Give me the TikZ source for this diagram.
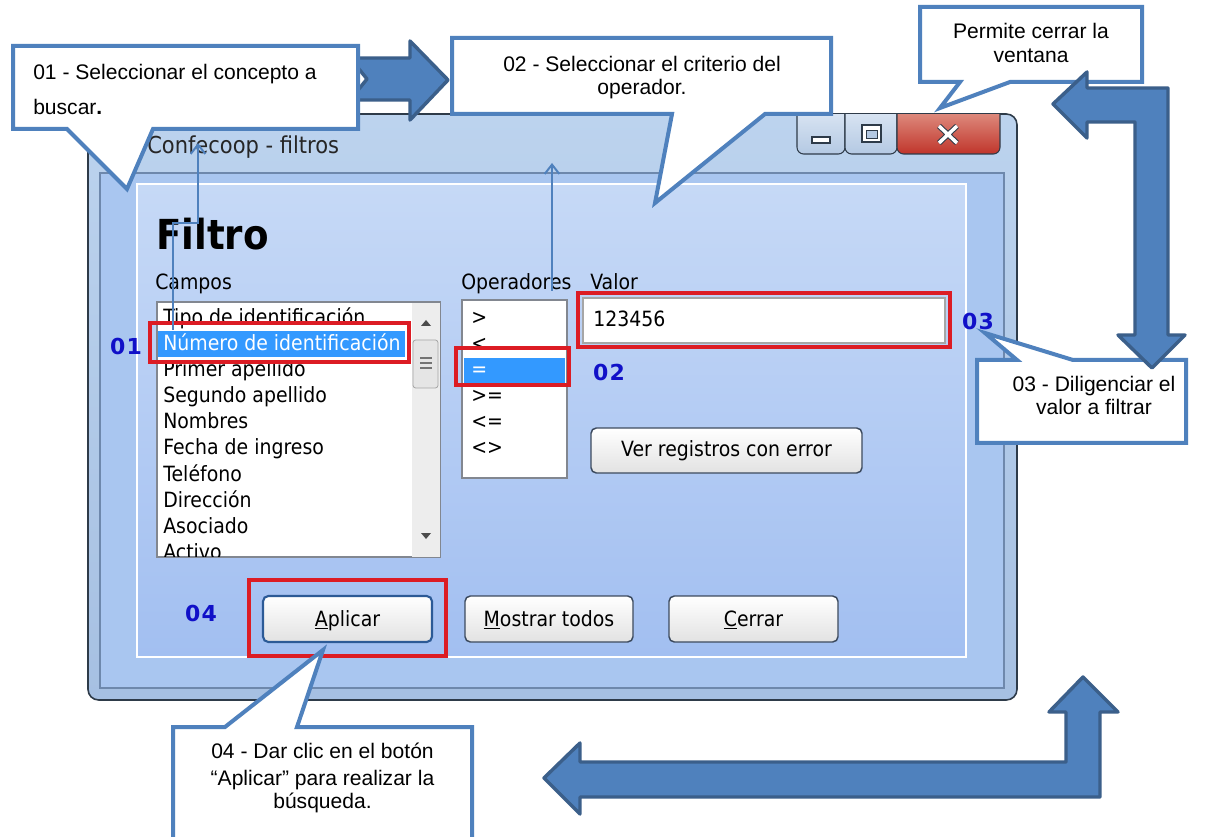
\documentclass[tikz,border=0pt]{standalone}
\usepackage{fontspec}
\setmainfont{Liberation Sans}
\newfontfamily\winfont[FakeStretch=0.9]{DejaVu Sans}
\newfontfamily\wintitle[FakeStretch=0.9]{DejaVu Sans}
\newfontfamily\numfont{DejaVu Sans}
\usetikzlibrary{arrows.meta}
\definecolor{cblue}{HTML}{4F81BD}
\definecolor{ablue}{HTML}{3B5F8A}
\definecolor{redc}{HTML}{DC1C24}
\definecolor{selblue}{HTML}{3399FF}
\definecolor{numblue}{HTML}{1010C8}
\definecolor{frametop}{HTML}{BCD3EE}
\definecolor{framebot}{HTML}{A6C0E2}
\definecolor{framedark}{HTML}{2E3B49}
\definecolor{clientc}{HTML}{A9C6F0}
\definecolor{clientline}{HTML}{6E88AC}
\definecolor{paneltop}{HTML}{C6D9F6}
\definecolor{panelbot}{HTML}{A2BFF1}
\definecolor{btnborder}{HTML}{3C4A5E}
\definecolor{btndef}{HTML}{2C5A96}
\definecolor{btnbot}{HTML}{E2E2E2}
\definecolor{lbborder}{HTML}{828790}
\definecolor{tbtop}{HTML}{E3ECF7}
\definecolor{tbbot}{HTML}{B4C9E3}
\definecolor{closetop}{HTML}{E7A597}
\definecolor{closebot}{HTML}{C0352B}
\begin{document}
\begin{tikzpicture}[x=0.75pt,y=-0.75pt,
  callout/.style={fill=white,draw=cblue,line width=3pt,line join=miter},
  blockarrow/.style={fill=cblue,draw=ablue,line width=2.6pt,line join=round},
  redbox/.style={draw=redc,line width=2.6pt},
  ctext/.style={inner sep=0pt,anchor=base,font=\fontsize{15.8}{18.8}\selectfont},
  wtext/.style={inner sep=0pt,anchor=base west,font=\winfont\fontsize{15.75}{19}\selectfont},
  wctext/.style={inner sep=0pt,anchor=base,font=\winfont\fontsize{15.75}{19}\selectfont},
  num/.style={inner sep=0pt,text=numblue,font=\numfont\bfseries\fontsize{16.5}{19}\selectfont},
  btn/.style={draw=btnborder,line width=1.1pt,rounded corners=4pt,top color=white,bottom color=btnbot},
  pointer/.style={draw=cblue,line width=1.5pt,-{Straight Barb[length=7pt,width=11pt]}},
  listbox/.style={fill=white,draw=lbborder,line width=0.8pt}
]
\useasboundingbox (0,0) rectangle (1213,837);
\clip (0,0) rectangle (1213,837);
\fill[white] (0,0) rectangle (1213,837);

% ---------- window ----------
\draw[top color=frametop,bottom color=framebot,draw=framedark,line width=1.2pt,rounded corners=8pt]
  (88,114) rectangle (1017,700);
\draw[fill=clientc,draw=clientline,line width=0.8pt] (100,173) rectangle (1004,688);
\draw[top color=paneltop,bottom color=panelbot,draw=white,line width=1.5pt] (137,184) rectangle (966,657);

% title bar buttons
\begin{scope}
  \clip (790,115) rectangle (1010,160);
  \draw[top color=tbtop,bottom color=tbbot,draw=framedark,line width=0.8pt,rounded corners=5pt] (797,100) rectangle (845,154);
  \draw[top color=tbtop,bottom color=tbbot,draw=framedark,line width=0.8pt,rounded corners=5pt] (845,100) rectangle (897,154);
  \draw[top color=closetop,bottom color=closebot,draw=framedark,line width=0.8pt,rounded corners=5pt] (897,100) rectangle (1000,154);
\end{scope}
\draw[fill=white,draw=framedark,line width=0.8pt] (812,137) rectangle (830,143);
\draw[fill=white,draw=framedark,line width=0.8pt] (862,125) rectangle (881,142);
\draw[fill=tbbot,draw=framedark,line width=0.6pt] (866,130) rectangle (877,138);
\draw[framedark,line width=4.2pt] (939,126) -- (957,143) (957,126) -- (939,143);
\draw[white,line width=2.6pt] (939,126) -- (957,143) (957,126) -- (939,143);

\node[inner sep=0pt,anchor=base west,font=\wintitle\fontsize{17.5}{20}\selectfont,text=black!85] (title) at (147,154) {Confecoop - filtros};

% ---------- content ----------
\node[inner sep=0pt,anchor=base west,font=\winfont\bfseries\fontsize{31}{36}\selectfont] (filtro) at (156,250) {Filtro};
\node[wtext] (campos) at (155,290) {Campos};
\node[wtext] (operadores) at (461,290) {Operadores};
\node[wtext] (valor) at (590,290) {Valor};

% campos list
\draw[listbox] (157,302) rectangle (440,557);
\fill[black!7] (412,303) rectangle (439.5,556.5);
\fill[black!70] (421,326) -- (431,326) -- (426,320) -- cycle;
\fill[black!70] (421,533) -- (431,533) -- (426,539) -- cycle;
\draw[fill=black!10,draw=black!35,line width=0.6pt,rounded corners=2pt] (413,340) rectangle (438,388);
\draw[black!55,line width=0.8pt] (420,358) -- (432,358) (420,363) -- (432,363) (420,368) -- (432,368);
\fill[selblue] (158,331) rectangle (405,357);
\begin{scope}
  \clip (158,303) rectangle (411,556);
  \node[wtext] (i1) at (163,325) {Tipo de identificación};
  \node[wtext,text=white] (i2) at (163,351) {Número de identificación};
  \node[wtext] (i3) at (163,377) {Primer apellido};
  \node[wtext] (i4) at (163,403) {Segundo apellido};
  \node[wtext] (i5) at (163,429) {Nombres};
  \node[wtext] (i6) at (163,455) {Fecha de ingreso};
  \node[wtext] (i7) at (163,481) {Teléfono};
  \node[wtext] (i8) at (163,507) {Dirección};
  \node[wtext] (i9) at (163,533) {Asociado};
  \node[wtext] (i10) at (163,559) {Activo};
\end{scope}

% operators list
\draw[listbox] (462,300) rectangle (567,478);
\fill[selblue] (464,358) rectangle (565,383);
\node[wtext] (o1) at (471,325) {>};
\node[wtext] (o2) at (471,351) {<};
\node[wtext,text=white] (o3) at (471,377) {=};
\node[wtext] (o4) at (471,403) {>=};
\node[wtext] (o5) at (471,429) {<=};
\node[wtext] (o6) at (471,455) {<>};

% value field
\draw[fill=white,draw=black!35,line width=0.8pt] (583,298) rectangle (945,343);
\node[wtext] (val) at (593,327) {123456};

% buttons
\draw[btn] (591,428) rectangle (862,473);
\node[wctext] (ver) at (726.5,457) {Ver registros con error};
\draw[btn,draw=btndef,line width=1.6pt] (263,596) rectangle (432,642);
\node[wctext] (aplicar) at (347.5,626) {\underline{A}plicar};
\draw[btn] (465,596) rectangle (633,642);
\node[wctext] (mostrar) at (549,626) {\underline{M}ostrar todos};
\draw[btn] (669,596) rectangle (838,642);
\node[wctext] (cerrar) at (753.5,626) {\underline{C}errar};

% numbers
\node[num] (n1) at (126,346) {0\kern1pt1};
\node[num] (n2) at (609,372) {0\kern1pt2};
\node[num] (n3) at (978,321) {0\kern1pt3};
\node[num] (n4) at (201,613) {0\kern1pt4};

% red highlight boxes
\draw[redbox] (150,323) rectangle (409,362);
\draw[redbox] (456,348) rectangle (569,385);
\draw[redbox] (578,293) rectangle (950,347);
\draw[redbox] (249,580) rectangle (446,656);

% thin pointers
\coordinate (p1s) at (173,330);
\coordinate (p1t) at (198,143);
\draw[pointer] (p1s) -- (173,223) -- (198,223) -- (p1t);
\coordinate (p2s) at (552,291);
\coordinate (p2t) at (552,163);
\draw[pointer] (p2s) -- (p2t);

% ---------- block arrows ----------
\draw[blockarrow] (350,58) -- (410,58) -- (410,41) -- (448,80) -- (410,120) -- (410,100) -- (350,100) -- (367,79) -- cycle;

\draw[blockarrow] (544,778) -- (580,743) -- (580,762) -- (1066,762) -- (1066,712) -- (1049,712) -- (1083,677)
  -- (1118,712) -- (1100,712) -- (1100,797) -- (580,797) -- (580,814) -- cycle;

% ---------- callouts ----------
\draw[callout] (13,46) -- (358,46) -- (358,129) -- (153,129) -- (127,189) -- (67,129) -- (13,129) -- cycle;
\node[ctext,anchor=base west] (c1a) at (33,80) {01 - Seleccionar el concepto a};
\node[ctext,anchor=base west] (c1b) at (33,115) {buscar\textbf{.}};

\draw[callout] (452,38) -- (831,38) -- (831,114) -- (765,114) -- (655,203) -- (672,114) -- (452,114) -- cycle;
\node[ctext] (c2a) at (642,72) {02 - Seleccionar el criterio del};
\node[ctext] (c2b) at (642,95) {operador.};

\draw[callout] (920,7) -- (1142,7) -- (1142,82) -- (1010,82) -- (940,108) -- (960,82) -- (920,82) -- cycle;
\node[ctext] (cpa) at (1031,39) {Permite cerrar la};
\node[ctext] (cpb) at (1031,63) {ventana};

\draw[callout] (977,360) -- (1017,360) -- (985,333) -- (1073,360) -- (1186,360) -- (1186,443) -- (977,443) -- cycle;
\node[ctext] (c3a) at (1094,392) {03 - Diligenciar el};
\node[ctext] (c3b) at (1094,415) {valor a filtrar};

\draw[callout] (173,850) -- (173,727) -- (225,727) -- (323,650) -- (297,727) -- (472,727) -- (472,850);
\node[ctext] (c4a) at (322.5,758) {04 - Dar clic en el botón};
\node[ctext] (c4b) at (322.5,785) {“Aplicar” para realizar la};
\node[ctext] (c4c) at (322.5,808) {búsqueda.};

% right L arrow (over callouts)
\draw[blockarrow] (1053,104) -- (1087,72) -- (1087,88) -- (1168,88) -- (1168,335) -- (1185,335) -- (1152,368)
  -- (1118,335) -- (1135,335) -- (1135,122) -- (1087,122) -- (1087,138) -- cycle;
\end{tikzpicture}
\end{document}
